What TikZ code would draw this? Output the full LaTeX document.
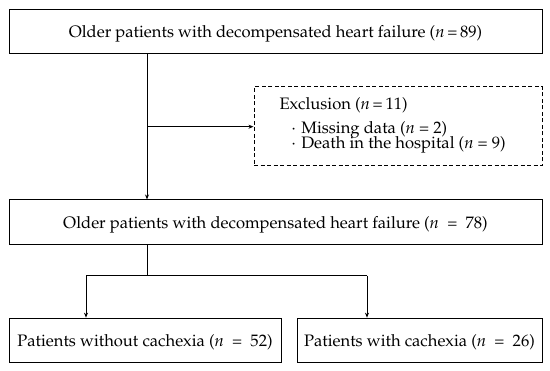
\documentclass[tikz,border=0pt]{standalone}
\usepackage[T1]{fontenc}
\usepackage{mathpazo}
\usetikzlibrary{arrows.meta}
\begin{document}
\begin{tikzpicture}[x=1pt,y=-1pt,
  box/.style={draw, line width=1pt, inner sep=0pt, minimum height=44.5pt, text height=12.5pt, text depth=0pt},
  dbox/.style={draw, line width=1pt, dash pattern=on 4pt off 2.5pt, inner sep=0pt},
  txt/.style={inner sep=0pt, font=\fontsize{16.6}{18}\selectfont},
  conn/.style={line width=1pt},
  arr/.style={line width=1pt, -{Stealth[length=5pt,width=4pt]}}
]
\useasboundingbox (0,0) rectangle (550,371);
\node[box, minimum width=533pt, txt] (top) at (275.5,31.7) {Older patients with decompensated heart failure (\textit{n}\,=\,89)};
\node[dbox, minimum width=288pt, minimum height=79pt] (excl) at (398,126.5) {};
\node[txt, anchor=base west] (ex1) at (279.3,109.3) {Exclusion (\textit{n}\,=\,11)};
\node[txt, anchor=base west] (ex2) at (291.5,133.5) {\textperiodcentered\hspace{5.5pt}Missing data (\textit{n} = 2)};
\node[txt, anchor=base west] (ex3) at (291.5,148.5) {\textperiodcentered\hspace{5.5pt}Death in the hospital (\textit{n} = 9)};
\node[box, minimum width=533pt, txt] (mid) at (275.5,222.2) {Older patients with decompensated heart failure (\textit{n} \ = \ 78)};
\node[box, minimum width=272pt, txt] (bl) at (145,340.4) {Patients without cachexia (\textit{n} \ = \ 52)};
\node[box, minimum width=245pt, txt] (br) at (419.5,340.4) {Patients with cachexia (\textit{n} \ = \ 26)};
\coordinate (j1) at (147,126.7);
\coordinate (j2) at (147,275.7);
\coordinate (jl) at (86,275.7);
\coordinate (jr) at (367,275.7);
\draw[arr] (top.south -| j1) -- (mid.north -| j1);
\draw[arr] (j1) -- (excl.west |- j1);
\draw[conn] (mid.south -| j2) -- (j2);
\draw[conn] (jl) -- (jr);
\draw[arr] (jl) -- (jl |- bl.north);
\draw[arr] (jr) -- (jr |- br.north);
\end{tikzpicture}
\end{document}
